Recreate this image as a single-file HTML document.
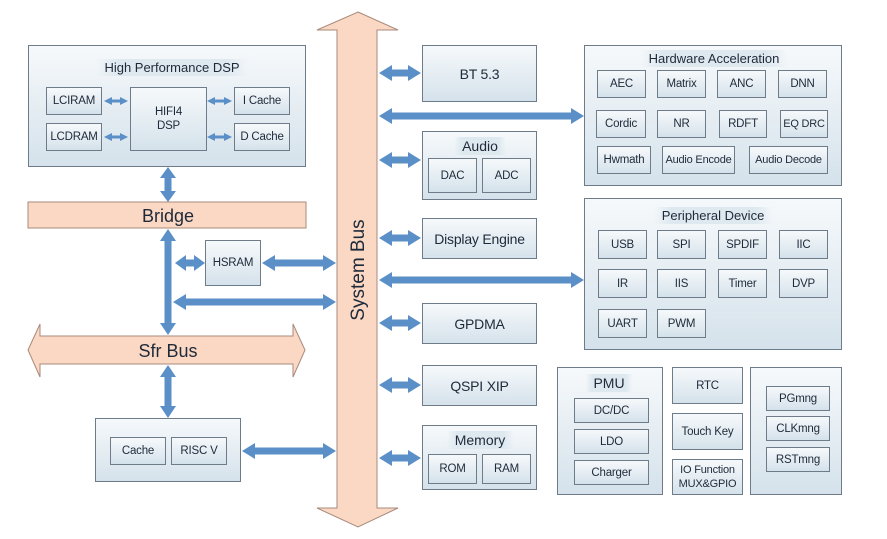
<!DOCTYPE html>
<html><head><meta charset="utf-8"><style>
body{margin:0;width:887px;height:539px;background:#fff;position:relative;overflow:hidden;font-family:"Liberation Sans",sans-serif;color:#1e2a3a}
.b{position:absolute;box-sizing:border-box;border:1px solid #6d7c88;background:linear-gradient(#f6f9fb,#d5e2eb);display:flex;align-items:center;justify-content:center;text-align:center;font-size:11.5px;line-height:14px;white-space:nowrap;letter-spacing:-0.2px}
.t{position:absolute;font-size:13px;text-align:center;transform:translateX(-50%);white-space:nowrap;background:linear-gradient(90deg,rgba(220,232,240,0),#dde8ef 15%,#dde8ef 85%,rgba(220,232,240,0));padding:1px 8px}
svg{position:absolute;left:0;top:0}
</style></head><body>
<svg width="887" height="539" id="s">
<polygon points="358,12 398,30 377,30 377,508 398,508 358,527 317,508 337,508 337,30 317,30" fill="#fbd8c3" stroke="#a98a7c" stroke-width="1"/>
<text x="0" y="0" transform="translate(364,270) rotate(-90)" text-anchor="middle" font-size="19" font-family="Liberation Sans" fill="#1e2a3a">System Bus</text>
<rect x="28" y="202" width="278" height="26" fill="#fbd8c3" stroke="#a98a7c"/>
<text x="168" y="222" text-anchor="middle" font-size="18" font-family="Liberation Sans" fill="#1e2a3a">Bridge</text>
<polygon points="28,350 40,324 40,336 293,336 293,324 305,350 293,377 293,364 40,364 40,377" fill="#fbd8c3" stroke="#a98a7c"/>
<text x="168" y="357" text-anchor="middle" font-size="18" font-family="Liberation Sans" fill="#1e2a3a">Sfr Bus</text>
</svg>
<div class="b" style="left:28px;top:45px;width:278px;height:122px"></div>
<div class="t" style="left:172px;top:59px">High Performance DSP</div>
<div class="b" style="left:46px;top:87px;width:56px;height:28px">LCIRAM</div>
<div class="b" style="left:46px;top:123px;width:56px;height:28px">LCDRAM</div>
<div class="b" style="left:130px;top:87px;width:77px;height:64px">HIFI4<br>DSP</div>
<div class="b" style="left:234px;top:87px;width:56px;height:28px">I Cache</div>
<div class="b" style="left:234px;top:123px;width:56px;height:28px">D Cache</div>
<div class="b" style="left:205px;top:240px;width:56px;height:46px">HSRAM</div>
<div class="b" style="left:95px;top:418px;width:146px;height:64px"></div>
<div class="b" style="left:110px;top:437px;width:56px;height:28px">Cache</div>
<div class="b" style="left:171px;top:437px;width:56px;height:28px">RISC V</div>

<div class="b" style="left:422px;top:45px;width:115px;height:57px;font-size:14px">BT 5.3</div>
<div class="b" style="left:422px;top:131px;width:115px;height:69px"></div>
<div class="t" style="left:480px;top:137px;font-size:14px">Audio</div>
<div class="b" style="left:428px;top:158px;width:49px;height:35px">DAC</div>
<div class="b" style="left:482px;top:158px;width:49px;height:35px">ADC</div>
<div class="b" style="left:422px;top:218px;width:115px;height:41px;font-size:14px">Display Engine</div>
<div class="b" style="left:422px;top:303px;width:115px;height:41px;font-size:14px">GPDMA</div>
<div class="b" style="left:422px;top:365px;width:115px;height:41px;font-size:14px">QSPI XIP</div>
<div class="b" style="left:422px;top:425px;width:115px;height:65px"></div>
<div class="t" style="left:480px;top:431px;font-size:14px">Memory</div>
<div class="b" style="left:428px;top:454px;width:49px;height:30px">ROM</div>
<div class="b" style="left:482px;top:454px;width:49px;height:30px">RAM</div>

<div class="b" style="left:584px;top:45px;width:258px;height:141px"></div>
<div class="t" style="left:714px;top:50px">Hardware Acceleration</div>
<div class="b" style="left:597px;top:70px;width:49px;height:28px">AEC</div>
<div class="b" style="left:657px;top:70px;width:49px;height:28px">Matrix</div>
<div class="b" style="left:717px;top:70px;width:49px;height:28px">ANC</div>
<div class="b" style="left:778px;top:70px;width:49px;height:28px">DNN</div>
<div class="b" style="left:596px;top:110px;width:50px;height:28px">Cordic</div>
<div class="b" style="left:657px;top:110px;width:49px;height:28px">NR</div>
<div class="b" style="left:719px;top:110px;width:48px;height:28px">RDFT</div>
<div class="b" style="left:780px;top:110px;width:48px;height:28px;font-size:11px">EQ DRC</div>
<div class="b" style="left:597px;top:146px;width:54px;height:28px">Hwmath</div>
<div class="b" style="left:662px;top:146px;width:73px;height:28px;font-size:11px">Audio Encode</div>
<div class="b" style="left:749px;top:146px;width:79px;height:28px;font-size:11px">Audio Decode</div>

<div class="b" style="left:584px;top:198px;width:258px;height:152px"></div>
<div class="t" style="left:713px;top:207px">Peripheral Device</div>
<div class="b" style="left:598px;top:230px;width:49px;height:29px">USB</div>
<div class="b" style="left:657px;top:230px;width:49px;height:29px">SPI</div>
<div class="b" style="left:718px;top:230px;width:49px;height:29px">SPDIF</div>
<div class="b" style="left:779px;top:230px;width:49px;height:29px">IIC</div>
<div class="b" style="left:598px;top:269px;width:49px;height:29px">IR</div>
<div class="b" style="left:657px;top:269px;width:49px;height:29px">IIS</div>
<div class="b" style="left:718px;top:269px;width:49px;height:29px">Timer</div>
<div class="b" style="left:779px;top:269px;width:49px;height:29px">DVP</div>
<div class="b" style="left:598px;top:309px;width:49px;height:29px">UART</div>
<div class="b" style="left:657px;top:309px;width:49px;height:29px">PWM</div>

<div class="b" style="left:557px;top:367px;width:106px;height:128px"></div>
<div class="t" style="left:609px;top:374px;font-size:14px">PMU</div>
<div class="b" style="left:574px;top:398px;width:75px;height:25px">DC/DC</div>
<div class="b" style="left:574px;top:429px;width:75px;height:25px">LDO</div>
<div class="b" style="left:574px;top:460px;width:75px;height:25px">Charger</div>
<div class="b" style="left:672px;top:367px;width:71px;height:37px">RTC</div>
<div class="b" style="left:672px;top:413px;width:71px;height:37px">Touch Key</div>
<div class="b" style="left:672px;top:459px;width:71px;height:36px;font-size:11px">IO Function<br>MUX&amp;GPIO</div>
<div class="b" style="left:750px;top:367px;width:92px;height:128px"></div>
<div class="b" style="left:766px;top:386px;width:64px;height:25px">PGmng</div>
<div class="b" style="left:766px;top:416px;width:64px;height:25px">CLKmng</div>
<div class="b" style="left:766px;top:447px;width:64px;height:25px">RSTmng</div>

<svg width="887" height="539" id="a"></svg>
<script>
var a=document.getElementById('a'),C='#5b8fc7',o='';
function H(x1,x2,y,t,h,w,l,r){var s=t/2;var p=[];
if(l)p.push([x1,y],[x1+h,y-w],[x1+h,y-s]);else p.push([x1,y-s]);
if(r)p.push([x2-h,y-s],[x2-h,y-w],[x2,y],[x2-h,y+w],[x2-h,y+s]);else p.push([x2,y-s],[x2,y+s]);
if(l)p.push([x1+h,y+s],[x1+h,y+w]);else p.push([x1,y+s]);
o+='<polygon fill="'+C+'" points="'+p.map(function(q){return q.join(',')}).join(' ')+'"/>';}
function V(y1,y2,x,t,h,w,u,d){var s=t/2;var p=[];
if(u)p.push([x,y1],[x+w,y1+h],[x+s,y1+h]);else p.push([x+s,y1]);
if(d)p.push([x+s,y2-h],[x+w,y2-h],[x,y2],[x-w,y2-h],[x-s,y2-h]);else p.push([x+s,y2],[x-s,y2]);
if(u)p.push([x-s,y1+h],[x-w,y1+h]);else p.push([x-s,y1]);
o+='<polygon fill="'+C+'" points="'+p.map(function(q){return q.join(',')}).join(' ')+'"/>';}
[73,160,238,323,385,458].forEach(function(y){H(379,421,y,7,13,8,1,1)});
H(379,584,116,7,13,8,1,1);H(379,584,280,7,13,8,1,1);
H(175,205,263,7,11,8,1,1);H(262,336,263,7,13,8,1,1);
H(173,336,302,7,13,8,1,1);H(242,336,451,7,13,8,1,1);
V(167,202,168,7,11,8,1,1);V(229,335,168,7,12,8,1,1);V(365,418,168,7,12,8,1,1);
[[104,128,101],[104,128,137],[207,232,101],[207,232,137]].forEach(function(q){H(q[0],q[1],q[2],3,8,4,1,1)});
a.innerHTML=o;
</script>
</body></html>
